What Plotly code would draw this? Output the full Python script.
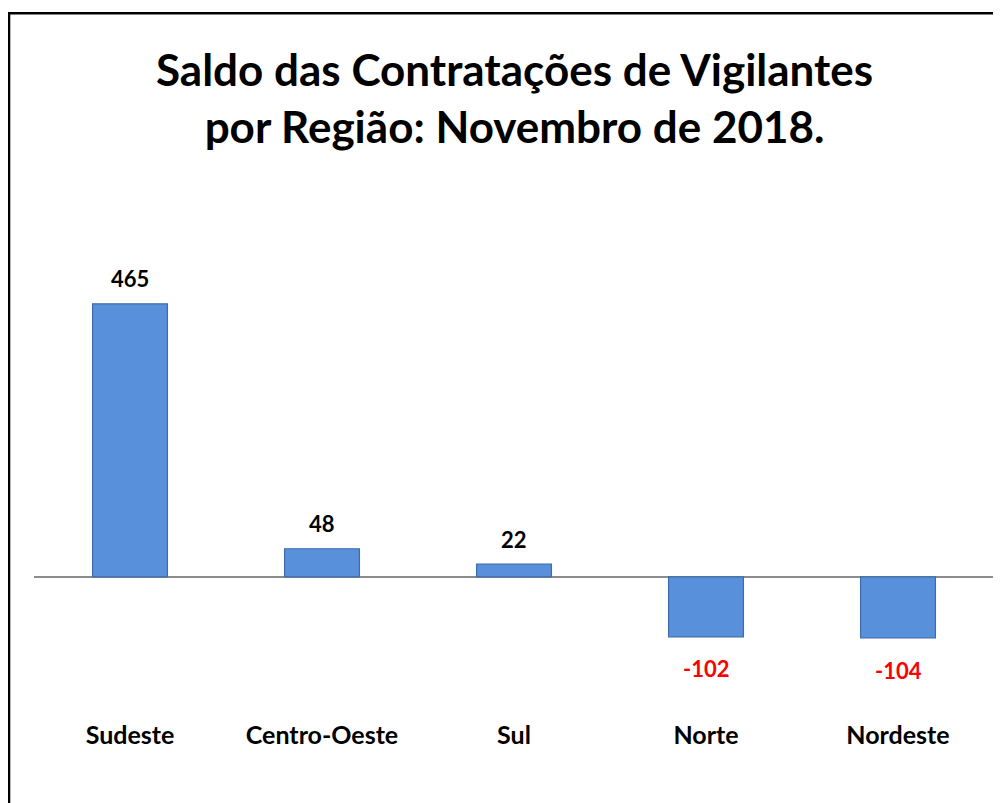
import plotly.graph_objects as go

regioes = ["Sudeste", "Centro-Oeste", "Sul", "Norte", "Nordeste"]
saldo = [465, 48, 22, -102, -104]
titulo = "Saldo das Contratações de Vigilantes<br>por Região: Novembro de 2018."

fig = go.Figure()
fig.add_trace(go.Bar(
    x=regioes, y=saldo,
    width=0.39,
    marker=dict(color="#5890db", line=dict(color="#3d6cab", width=1.2)),
    showlegend=False,
    hoverinfo="x+y",
))

annotations = []
for cat, v in zip(regioes, saldo):
    annotations.append(dict(
        x=cat, y=v, xref="x", yref="y", text=str(v), showarrow=False,
        yshift=25 if v >= 0 else -32, yanchor="middle",
        font=dict(family="Lato", size=22, weight="bold",
                  color="#000000" if v >= 0 else "#ff0000"),
    ))
annotations.append(dict(
    x=0.5, y=1.113, xref="paper", yref="paper", text=titulo, showarrow=False,
    xanchor="center", yanchor="middle",
    font=dict(family="Lato", size=44, weight="bold", color="black"),
))

fig.update_layout(
    width=1001, height=803,
    margin=dict(l=26, r=15, t=152, b=99),
    paper_bgcolor="white", plot_bgcolor="white",
    xaxis=dict(showgrid=False, showline=False, ticks="", ticklabelstandoff=6,
               tickfont=dict(family="Lato", size=25, color="black", weight="bold")),
    yaxis=dict(range=[-230, 710], showgrid=False, showticklabels=False,
               zeroline=True, zerolinecolor="#8c8c8c", zerolinewidth=2),
    font=dict(family="Lato"),
    annotations=annotations,
    shapes=[dict(type="rect", xref="paper", yref="paper",
                 x0=-0.026, x1=1.2, y0=-0.5, y1=1.266,
                 line=dict(color="black", width=2.5), fillcolor="rgba(0,0,0,0)")],
)

fig.write_html("out.html")
